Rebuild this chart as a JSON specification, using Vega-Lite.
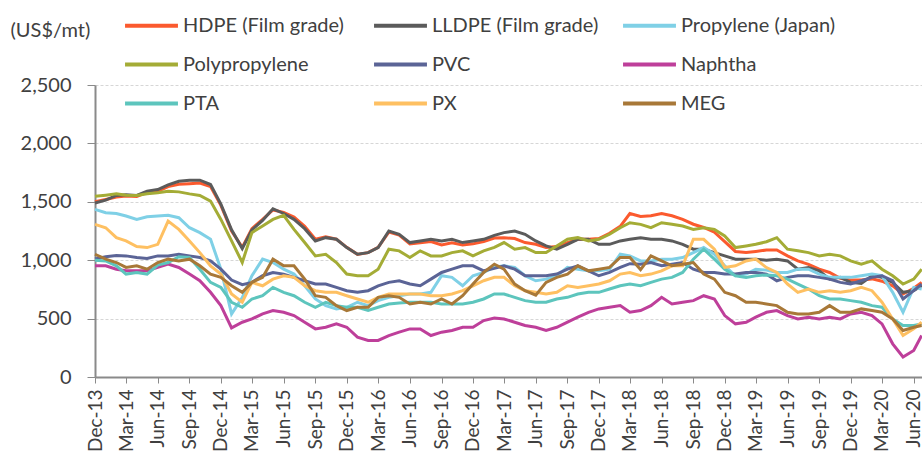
{
  "$schema": "https://vega.github.io/schema/vega-lite/v6.json",
  "autosize": "none",
  "width": 827,
  "height": 292,
  "padding": {"left": 95, "top": 85, "right": 0, "bottom": 84},
  "background": "white",
  "config": {
    "view": {"stroke": null},
    "font": "Lato",
    "axis": {"labelFont": "Lato", "labelColor": "#404040", "titleFont": "Lato", "titleColor": "#404040"}
  },
  "data": {
    "values": [
      {"d":"2013-12-01","HDPE":1500,"LLDPE":1490,"Propylene":1435,"PP":1548,"PVC":1010,"Naphtha":952,"PTA":1000,"PX":1307,"MEG":1051},
      {"d":"2014-01-01","HDPE":1520,"LLDPE":1514,"Propylene":1406,"PP":1557,"PVC":1030,"Naphtha":952,"PTA":994,"PX":1278,"MEG":1009},
      {"d":"2014-02-01","HDPE":1540,"LLDPE":1554,"Propylene":1400,"PP":1568,"PVC":1040,"Naphtha":923,"PTA":952,"PX":1193,"MEG":980},
      {"d":"2014-03-01","HDPE":1550,"LLDPE":1560,"Propylene":1378,"PP":1557,"PVC":1037,"Naphtha":909,"PTA":881,"PX":1165,"MEG":938},
      {"d":"2014-04-01","HDPE":1545,"LLDPE":1554,"Propylene":1349,"PP":1554,"PVC":1023,"Naphtha":909,"PTA":895,"PX":1117,"MEG":952},
      {"d":"2014-05-01","HDPE":1580,"LLDPE":1590,"Propylene":1372,"PP":1568,"PVC":1014,"Naphtha":909,"PTA":881,"PX":1108,"MEG":923},
      {"d":"2014-06-01","HDPE":1590,"LLDPE":1605,"Propylene":1378,"PP":1577,"PVC":1037,"Naphtha":938,"PTA":958,"PX":1136,"MEG":980},
      {"d":"2014-07-01","HDPE":1630,"LLDPE":1645,"Propylene":1384,"PP":1591,"PVC":1037,"Naphtha":966,"PTA":980,"PX":1335,"MEG":1009},
      {"d":"2014-08-01","HDPE":1650,"LLDPE":1676,"Propylene":1364,"PP":1585,"PVC":1051,"Naphtha":938,"PTA":1030,"PX":1264,"MEG":994},
      {"d":"2014-09-01","HDPE":1655,"LLDPE":1685,"Propylene":1278,"PP":1568,"PVC":1037,"Naphtha":881,"PTA":1023,"PX":1165,"MEG":1009},
      {"d":"2014-10-01","HDPE":1660,"LLDPE":1685,"Propylene":1236,"PP":1554,"PVC":1023,"Naphtha":824,"PTA":923,"PX":1065,"MEG":952},
      {"d":"2014-11-01","HDPE":1630,"LLDPE":1648,"Propylene":1179,"PP":1506,"PVC":994,"Naphtha":725,"PTA":810,"PX":952,"MEG":881},
      {"d":"2014-12-01","HDPE":1470,"LLDPE":1480,"Propylene":923,"PP":1349,"PVC":923,"Naphtha":611,"PTA":767,"PX":881,"MEG":853},
      {"d":"2015-01-01","HDPE":1250,"LLDPE":1260,"Propylene":540,"PP":1165,"PVC":830,"Naphtha":420,"PTA":640,"PX":711,"MEG":781},
      {"d":"2015-02-01","HDPE":1110,"LLDPE":1100,"Propylene":680,"PP":980,"PVC":790,"Naphtha":469,"PTA":597,"PX":640,"MEG":725},
      {"d":"2015-03-01","HDPE":1270,"LLDPE":1260,"Propylene":867,"PP":1236,"PVC":810,"Naphtha":497,"PTA":668,"PX":810,"MEG":810},
      {"d":"2015-04-01","HDPE":1350,"LLDPE":1340,"Propylene":1009,"PP":1293,"PVC":867,"Naphtha":540,"PTA":696,"PX":781,"MEG":853},
      {"d":"2015-05-01","HDPE":1430,"LLDPE":1440,"Propylene":980,"PP":1349,"PVC":895,"Naphtha":569,"PTA":767,"PX":838,"MEG":1009},
      {"d":"2015-06-01","HDPE":1410,"LLDPE":1400,"Propylene":923,"PP":1384,"PVC":881,"Naphtha":554,"PTA":725,"PX":867,"MEG":952},
      {"d":"2015-07-01","HDPE":1370,"LLDPE":1350,"Propylene":881,"PP":1264,"PVC":853,"Naphtha":526,"PTA":696,"PX":853,"MEG":952},
      {"d":"2015-08-01","HDPE":1290,"LLDPE":1270,"Propylene":781,"PP":1151,"PVC":824,"Naphtha":469,"PTA":640,"PX":781,"MEG":838},
      {"d":"2015-09-01","HDPE":1180,"LLDPE":1165,"Propylene":668,"PP":1037,"PVC":796,"Naphtha":412,"PTA":597,"PX":739,"MEG":696},
      {"d":"2015-10-01","HDPE":1200,"LLDPE":1193,"Propylene":611,"PP":1051,"PVC":796,"Naphtha":426,"PTA":640,"PX":725,"MEG":682},
      {"d":"2015-11-01","HDPE":1180,"LLDPE":1179,"Propylene":583,"PP":980,"PVC":767,"Naphtha":455,"PTA":611,"PX":725,"MEG":611},
      {"d":"2015-12-01","HDPE":1110,"LLDPE":1108,"Propylene":597,"PP":881,"PVC":739,"Naphtha":426,"PTA":597,"PX":696,"MEG":569},
      {"d":"2016-01-01","HDPE":1050,"LLDPE":1051,"Propylene":640,"PP":867,"PVC":725,"Naphtha":341,"PTA":597,"PX":668,"MEG":597},
      {"d":"2016-02-01","HDPE":1065,"LLDPE":1065,"Propylene":611,"PP":867,"PVC":739,"Naphtha":313,"PTA":569,"PX":640,"MEG":597},
      {"d":"2016-03-01","HDPE":1110,"LLDPE":1108,"Propylene":654,"PP":923,"PVC":781,"Naphtha":313,"PTA":597,"PX":682,"MEG":682},
      {"d":"2016-04-01","HDPE":1240,"LLDPE":1250,"Propylene":682,"PP":1094,"PVC":810,"Naphtha":355,"PTA":625,"PX":711,"MEG":696},
      {"d":"2016-05-01","HDPE":1215,"LLDPE":1222,"Propylene":696,"PP":1080,"PVC":824,"Naphtha":384,"PTA":634,"PX":711,"MEG":682},
      {"d":"2016-06-01","HDPE":1140,"LLDPE":1151,"Propylene":711,"PP":1023,"PVC":796,"Naphtha":412,"PTA":640,"PX":711,"MEG":625},
      {"d":"2016-07-01","HDPE":1150,"LLDPE":1165,"Propylene":711,"PP":1080,"PVC":781,"Naphtha":412,"PTA":640,"PX":711,"MEG":640},
      {"d":"2016-08-01","HDPE":1160,"LLDPE":1179,"Propylene":725,"PP":1037,"PVC":838,"Naphtha":355,"PTA":640,"PX":696,"MEG":625},
      {"d":"2016-09-01","HDPE":1130,"LLDPE":1165,"Propylene":867,"PP":1037,"PVC":895,"Naphtha":384,"PTA":625,"PX":696,"MEG":668},
      {"d":"2016-10-01","HDPE":1150,"LLDPE":1179,"Propylene":853,"PP":1065,"PVC":923,"Naphtha":398,"PTA":625,"PX":711,"MEG":625},
      {"d":"2016-11-01","HDPE":1130,"LLDPE":1151,"Propylene":781,"PP":1080,"PVC":952,"Naphtha":426,"PTA":625,"PX":739,"MEG":696},
      {"d":"2016-12-01","HDPE":1140,"LLDPE":1165,"Propylene":867,"PP":1037,"PVC":952,"Naphtha":426,"PTA":640,"PX":781,"MEG":796},
      {"d":"2017-01-01","HDPE":1160,"LLDPE":1179,"Propylene":895,"PP":1080,"PVC":909,"Naphtha":483,"PTA":668,"PX":824,"MEG":895},
      {"d":"2017-02-01","HDPE":1190,"LLDPE":1213,"Propylene":940,"PP":1110,"PVC":930,"Naphtha":505,"PTA":711,"PX":853,"MEG":966},
      {"d":"2017-03-01","HDPE":1193,"LLDPE":1236,"Propylene":952,"PP":1151,"PVC":952,"Naphtha":497,"PTA":711,"PX":853,"MEG":923},
      {"d":"2017-04-01","HDPE":1185,"LLDPE":1250,"Propylene":938,"PP":1094,"PVC":923,"Naphtha":469,"PTA":682,"PX":781,"MEG":796},
      {"d":"2017-05-01","HDPE":1151,"LLDPE":1222,"Propylene":867,"PP":1108,"PVC":867,"Naphtha":441,"PTA":654,"PX":739,"MEG":739},
      {"d":"2017-06-01","HDPE":1136,"LLDPE":1165,"Propylene":824,"PP":1065,"PVC":867,"Naphtha":426,"PTA":640,"PX":725,"MEG":700},
      {"d":"2017-07-01","HDPE":1108,"LLDPE":1122,"Propylene":838,"PP":1065,"PVC":867,"Naphtha":398,"PTA":640,"PX":711,"MEG":810},
      {"d":"2017-08-01","HDPE":1117,"LLDPE":1094,"Propylene":867,"PP":1122,"PVC":881,"Naphtha":426,"PTA":668,"PX":725,"MEG":853},
      {"d":"2017-09-01","HDPE":1151,"LLDPE":1136,"Propylene":938,"PP":1179,"PVC":923,"Naphtha":469,"PTA":682,"PX":781,"MEG":881},
      {"d":"2017-10-01","HDPE":1179,"LLDPE":1179,"Propylene":923,"PP":1193,"PVC":952,"Naphtha":512,"PTA":711,"PX":767,"MEG":952},
      {"d":"2017-11-01","HDPE":1179,"LLDPE":1179,"Propylene":909,"PP":1165,"PVC":909,"Naphtha":554,"PTA":725,"PX":781,"MEG":909},
      {"d":"2017-12-01","HDPE":1185,"LLDPE":1136,"Propylene":909,"PP":1179,"PVC":867,"Naphtha":583,"PTA":725,"PX":796,"MEG":923},
      {"d":"2018-01-01","HDPE":1230,"LLDPE":1136,"Propylene":923,"PP":1222,"PVC":895,"Naphtha":597,"PTA":753,"PX":824,"MEG":938},
      {"d":"2018-02-01","HDPE":1290,"LLDPE":1165,"Propylene":1051,"PP":1278,"PVC":938,"Naphtha":611,"PTA":781,"PX":881,"MEG":1023},
      {"d":"2018-03-01","HDPE":1400,"LLDPE":1179,"Propylene":1037,"PP":1321,"PVC":970,"Naphtha":554,"PTA":796,"PX":895,"MEG":1023},
      {"d":"2018-04-01","HDPE":1375,"LLDPE":1193,"Propylene":994,"PP":1307,"PVC":966,"Naphtha":569,"PTA":781,"PX":867,"MEG":920},
      {"d":"2018-05-01","HDPE":1380,"LLDPE":1179,"Propylene":994,"PP":1278,"PVC":980,"Naphtha":611,"PTA":810,"PX":881,"MEG":1037},
      {"d":"2018-06-01","HDPE":1400,"LLDPE":1179,"Propylene":1009,"PP":1321,"PVC":952,"Naphtha":682,"PTA":838,"PX":909,"MEG":994},
      {"d":"2018-07-01","HDPE":1380,"LLDPE":1165,"Propylene":1009,"PP":1307,"PVC":966,"Naphtha":625,"PTA":853,"PX":952,"MEG":952},
      {"d":"2018-08-01","HDPE":1350,"LLDPE":1136,"Propylene":1023,"PP":1293,"PVC":980,"Naphtha":640,"PTA":895,"PX":952,"MEG":966},
      {"d":"2018-09-01","HDPE":1308,"LLDPE":1094,"Propylene":1065,"PP":1264,"PVC":923,"Naphtha":654,"PTA":1009,"PX":1179,"MEG":980},
      {"d":"2018-10-01","HDPE":1280,"LLDPE":1094,"Propylene":1108,"PP":1278,"PVC":895,"Naphtha":696,"PTA":1094,"PX":1179,"MEG":881},
      {"d":"2018-11-01","HDPE":1240,"LLDPE":1065,"Propylene":1051,"PP":1264,"PVC":895,"Naphtha":668,"PTA":1009,"PX":1094,"MEG":838},
      {"d":"2018-12-01","HDPE":1160,"LLDPE":1037,"Propylene":952,"PP":1207,"PVC":881,"Naphtha":526,"PTA":923,"PX":938,"MEG":725},
      {"d":"2019-01-01","HDPE":1075,"LLDPE":1009,"Propylene":867,"PP":1108,"PVC":881,"Naphtha":455,"PTA":867,"PX":952,"MEG":696},
      {"d":"2019-02-01","HDPE":1066,"LLDPE":1009,"Propylene":881,"PP":1122,"PVC":895,"Naphtha":469,"PTA":853,"PX":994,"MEG":640},
      {"d":"2019-03-01","HDPE":1075,"LLDPE":1009,"Propylene":923,"PP":1136,"PVC":895,"Naphtha":512,"PTA":867,"PX":1009,"MEG":640},
      {"d":"2019-04-01","HDPE":1087,"LLDPE":1000,"Propylene":915,"PP":1158,"PVC":880,"Naphtha":554,"PTA":874,"PX":937,"MEG":625},
      {"d":"2019-05-01","HDPE":1087,"LLDPE":1009,"Propylene":895,"PP":1193,"PVC":824,"Naphtha":569,"PTA":867,"PX":895,"MEG":611},
      {"d":"2019-06-01","HDPE":1037,"LLDPE":994,"Propylene":895,"PP":1094,"PVC":853,"Naphtha":526,"PTA":838,"PX":796,"MEG":554},
      {"d":"2019-07-01","HDPE":994,"LLDPE":923,"Propylene":923,"PP":1080,"PVC":867,"Naphtha":497,"PTA":796,"PX":725,"MEG":540},
      {"d":"2019-08-01","HDPE":965,"LLDPE":938,"Propylene":923,"PP":1065,"PVC":867,"Naphtha":512,"PTA":753,"PX":753,"MEG":540},
      {"d":"2019-09-01","HDPE":923,"LLDPE":909,"Propylene":881,"PP":1037,"PVC":853,"Naphtha":497,"PTA":696,"PX":725,"MEG":554},
      {"d":"2019-10-01","HDPE":895,"LLDPE":838,"Propylene":853,"PP":1051,"PVC":838,"Naphtha":512,"PTA":668,"PX":739,"MEG":611},
      {"d":"2019-11-01","HDPE":845,"LLDPE":853,"Propylene":853,"PP":1037,"PVC":810,"Naphtha":497,"PTA":668,"PX":725,"MEG":554},
      {"d":"2019-12-01","HDPE":830,"LLDPE":810,"Propylene":853,"PP":994,"PVC":796,"Naphtha":540,"PTA":654,"PX":739,"MEG":554},
      {"d":"2020-01-01","HDPE":830,"LLDPE":800,"Propylene":867,"PP":966,"PVC":824,"Naphtha":554,"PTA":640,"PX":767,"MEG":583},
      {"d":"2020-02-01","HDPE":840,"LLDPE":867,"Propylene":881,"PP":994,"PVC":853,"Naphtha":526,"PTA":611,"PX":739,"MEG":569},
      {"d":"2020-03-01","HDPE":820,"LLDPE":853,"Propylene":867,"PP":923,"PVC":867,"Naphtha":455,"PTA":597,"PX":640,"MEG":554},
      {"d":"2020-04-01","HDPE":780,"LLDPE":810,"Propylene":725,"PP":867,"PVC":824,"Naphtha":284,"PTA":497,"PX":497,"MEG":497},
      {"d":"2020-05-01","HDPE":710,"LLDPE":725,"Propylene":554,"PP":796,"PVC":668,"Naphtha":171,"PTA":441,"PX":355,"MEG":398},
      {"d":"2020-06-01","HDPE":760,"LLDPE":739,"Propylene":767,"PP":838,"PVC":739,"Naphtha":227,"PTA":441,"PX":412,"MEG":426},
      {"d":"2020-06-24","HDPE":810,"LLDPE":781,"Propylene":753,"PP":923,"PVC":796,"Naphtha":355,"PTA":455,"PX":469,"MEG":441}
    ]
  },
  "transform": [
    {"fold": ["HDPE", "LLDPE", "Propylene", "PP", "PVC", "Naphtha", "PTA", "PX", "MEG"], "as": ["series", "price"]}
  ],
  "mark": {"type": "line", "strokeWidth": 3, "interpolate": "linear"},
  "encoding": {
    "x": {
      "field": "d",
      "type": "temporal",
      "scale": {"type": "utc", "domain": [{"year": 2013, "month": 12, "date": 1, "utc": true}, {"year": 2020, "month": 6, "date": 25, "utc": true}]},
      "axis": {
        "title": null,
        "labelExpr": "utcFormat(datum.value, '%b-%y')",
        "values": [
          {"year": 2013, "month": 12, "date": 1, "utc": true},
          {"year": 2014, "month": 3, "date": 1, "utc": true},
          {"year": 2014, "month": 6, "date": 1, "utc": true},
          {"year": 2014, "month": 9, "date": 1, "utc": true},
          {"year": 2014, "month": 12, "date": 1, "utc": true},
          {"year": 2015, "month": 3, "date": 1, "utc": true},
          {"year": 2015, "month": 6, "date": 1, "utc": true},
          {"year": 2015, "month": 9, "date": 1, "utc": true},
          {"year": 2015, "month": 12, "date": 1, "utc": true},
          {"year": 2016, "month": 3, "date": 1, "utc": true},
          {"year": 2016, "month": 6, "date": 1, "utc": true},
          {"year": 2016, "month": 9, "date": 1, "utc": true},
          {"year": 2016, "month": 12, "date": 1, "utc": true},
          {"year": 2017, "month": 3, "date": 1, "utc": true},
          {"year": 2017, "month": 6, "date": 1, "utc": true},
          {"year": 2017, "month": 9, "date": 1, "utc": true},
          {"year": 2017, "month": 12, "date": 1, "utc": true},
          {"year": 2018, "month": 3, "date": 1, "utc": true},
          {"year": 2018, "month": 6, "date": 1, "utc": true},
          {"year": 2018, "month": 9, "date": 1, "utc": true},
          {"year": 2018, "month": 12, "date": 1, "utc": true},
          {"year": 2019, "month": 3, "date": 1, "utc": true},
          {"year": 2019, "month": 6, "date": 1, "utc": true},
          {"year": 2019, "month": 9, "date": 1, "utc": true},
          {"year": 2019, "month": 12, "date": 1, "utc": true},
          {"year": 2020, "month": 3, "date": 1, "utc": true},
          {"year": 2020, "month": 6, "date": 1, "utc": true}
        ],
        "labelAngle": -90,
        "labelFontSize": 19,
        "labelOverlap": false,
        "labelFlush": false,
        "labelBound": false,
        "labelPadding": 6,
        "tickSize": 6,
        "tickColor": "#8a8a8a",
        "domainColor": "#8a8a8a",
        "domainWidth": 2,
        "grid": false
      }
    },
    "y": {
      "field": "price",
      "type": "quantitative",
      "scale": {"domain": [0, 2500], "nice": false},
      "axis": {
        "title": "(US$/mt)",
        "titleAngle": 0,
        "titleX": -85,
        "titleY": -55,
        "titleAlign": "left",
        "titleBaseline": "middle",
        "titleFontSize": 20,
        "titleFontWeight": "normal",
        "values": [0, 500, 1000, 1500, 2000, 2500],
        "format": ",.0f",
        "labelFontSize": 20,
        "labelPadding": 16,
        "tickSize": 8,
        "tickColor": "#8a8a8a",
        "domainColor": "#8a8a8a",
        "domainWidth": 2,
        "grid": true,
        "gridDash": [3, 2],
        "gridColor": "#d6d6d6"
      }
    },
    "color": {
      "field": "series",
      "type": "nominal",
      "scale": {
        "domain": ["HDPE", "LLDPE", "Propylene", "PP", "PVC", "Naphtha", "PTA", "PX", "MEG"],
        "range": ["#FB5A2E", "#5B5B5B", "#7FD0E6", "#A4AC36", "#5B6496", "#BE3F9A", "#5DC5BD", "#FEC062", "#A87838"]
      },
      "legend": {
        "title": null,
        "orient": "none",
        "direction": "horizontal",
        "legendX": 28,
        "legendY": -88,
        "columns": 3,
        "gridAlign": "all",
        "columnPadding": 16,
        "rowPadding": 0,
        "symbolType": "stroke",
        "symbolSize": 2800,
        "symbolStrokeWidth": 4,
        "labelFontSize": 20,
        "labelColor": "#404040",
        "labelOffset": 3,
        "labelLimit": 400,
        "labelExpr": "{'HDPE':'HDPE (Film grade)','LLDPE':'LLDPE (Film grade)','Propylene':'Propylene (Japan)','PP':'Polypropylene','PVC':'PVC','Naphtha':'Naphtha','PTA':'PTA','PX':'PX','MEG':'MEG'}[datum.label]"
      }
    }
  }
}
